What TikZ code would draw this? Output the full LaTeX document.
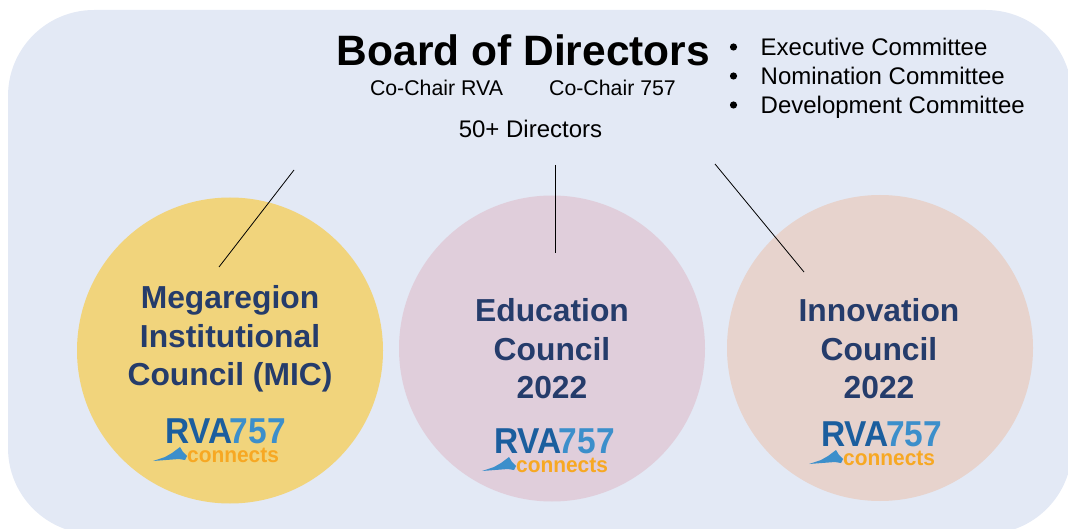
\documentclass[tikz,border=0pt]{standalone}
\usepackage{fontspec}
\setmainfont{Liberation Sans}
\definecolor{panel}{HTML}{E3E9F5}
\definecolor{micfill}{HTML}{F1D47C}
\definecolor{edufill}{HTML}{E0CEDB}
\definecolor{innfill}{HTML}{E7D3CD}
\definecolor{navy}{HTML}{253C6B}
\definecolor{rvablue}{HTML}{1B5E9E}
\definecolor{sevenblue}{HTML}{3C8FCB}
\definecolor{connorange}{HTML}{F7A823}
\tikzset{
  x=1pt,y=-1pt,
  council/.style={circle,draw=none,minimum size=306pt,inner sep=0pt},
  ctitle/.style={align=center,text=navy,font=\fontsize{31.8}{38.5}\selectfont\bfseries,inner sep=0pt},
  plain/.style={inner sep=0pt,text=black},
  link/.style={draw=black,line width=0.8pt},
  logorva/.style={inner sep=0pt,font=\fontsize{36}{36}\selectfont\bfseries,anchor=base west,xscale=0.93},
  logocon/.style={inner sep=0pt,font=\fontsize{22}{22}\selectfont\bfseries,anchor=base west,text=connorange,xscale=0.95}
}
\newcommand{\rvalogo}[3]{%
  \node[logorva] (#3r) at (#1,#2) {\textcolor{rvablue}{RVA}\kern-3pt\textcolor{sevenblue}{757}};
  \node[logocon] (#3c) at (#1+22,#2+19) {connects};
  \fill[sevenblue] (#1-12,#2+18) -- (#1+0,#2+14) -- (#1+7,#2+10) -- (#1+15,#2+4) -- (#1+18,#2+9) -- (#1+22,#2+13) -- (#1+20,#2+17) -- (#1+14,#2+16) -- cycle;
}
\begin{document}
\begin{tikzpicture}
\useasboundingbox (0,0) rectangle (1068,529);
\clip (0,0) rectangle (1068,529);
\fill[panel,rounded corners=86pt] (8,10) rectangle (1072,534);
\node[council,fill=micfill] (mic) at (230,350.5) {};
\node[council,fill=edufill] (edu) at (552,348.5) {};
\node[council,fill=innfill] (inn) at (880,348) {};
\node[plain,anchor=base,font=\fontsize{42.5}{42.5}\selectfont\bfseries] (board) at (523.5,66) {Board of Directors};
\node[plain,anchor=base,font=\fontsize{21.3}{21.3}\selectfont] (rva) at (436.5,96) {Co-Chair RVA};
\node[plain,anchor=base,font=\fontsize{21.3}{21.3}\selectfont] (c757) at (612.5,96) {Co-Chair 757};
\node[plain,anchor=base,font=\fontsize{24}{24}\selectfont] (dirs) at (530.5,138) {50+ Directors};
\node[plain,anchor=base west,font=\fontsize{24}{24}\selectfont] (b1) at (760.5,56) {Executive Committee};
\node[plain,anchor=base west,font=\fontsize{24}{24}\selectfont] (b2) at (760.5,85) {Nomination Committee};
\node[plain,anchor=base west,font=\fontsize{24}{24}\selectfont] (b3) at (760.5,114) {Development Committee};
\foreach \n in {1,2,3} \fill (b\n.base west) ++(-27,-9) circle (3.6pt);
\coordinate (l1a) at (294,170); \coordinate (l1b) at (219,267);
\coordinate (l2a) at (555,165); \coordinate (l2b) at (555,253);
\coordinate (l3a) at (715,164); \coordinate (l3b) at (804,272);
\draw[link] (l1a) -- (l1b);
\draw[link] (l2a) -- (l2b);
\draw[link] (l3a) -- (l3b);
\node[ctitle] (mict) at (230,339) {Megaregion\\Institutional\\Council (MIC)};
\node[ctitle] (edut) at (552,349) {Education\\Council\\2022};
\node[ctitle] (innt) at (879,349) {Innovation\\Council\\2022};
\rvalogo{165}{443}{la}
\rvalogo{494}{453}{lb}
\rvalogo{821}{446}{lc}
\end{tikzpicture}
\end{document}
